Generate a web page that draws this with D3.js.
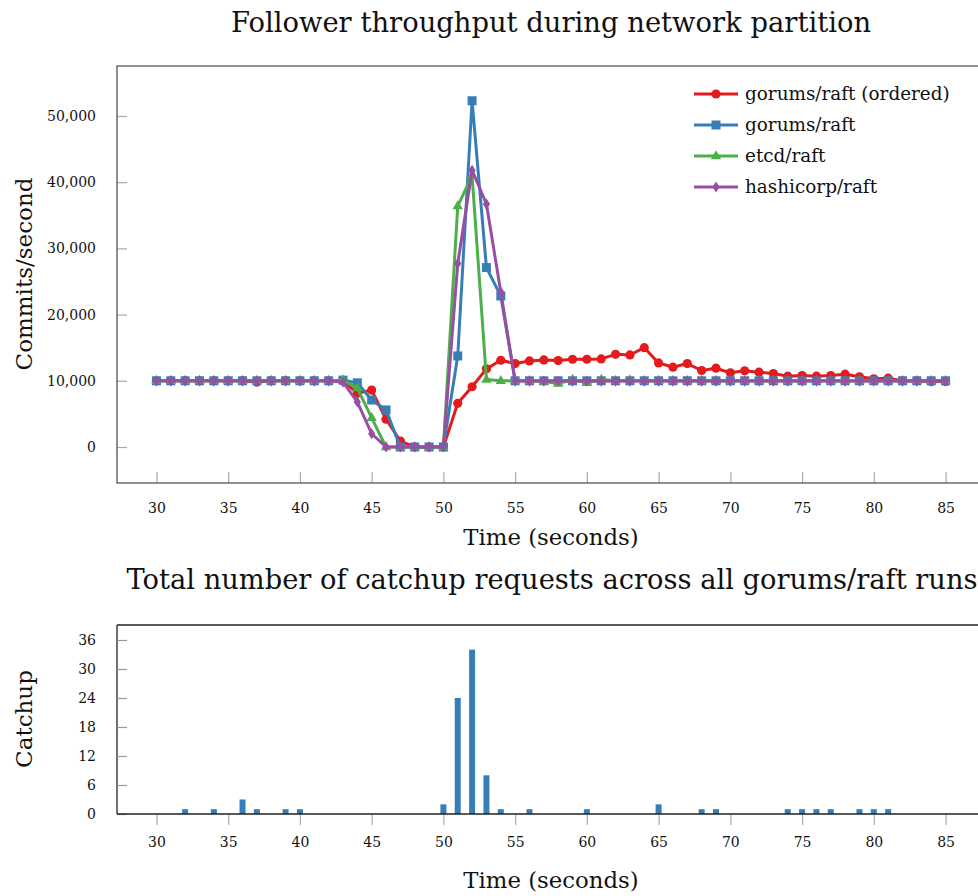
<!DOCTYPE html>
<html>
<head>
<meta charset="utf-8">
<script src="https://cdn.jsdelivr.net/npm/d3@7"></script>
<style>
  body { margin: 0; background: #fff; }
  svg { display: block; }
  text { font-family: "DejaVu Serif", serif; fill: #111; }
</style>
</head>
<body>
<svg id="chart" width="978" height="896"></svg>
<script>
// ---------- data ----------
const times = d3.range(30, 86);
const seriesNames = ["gorums/raft (ordered)", "gorums/raft", "etcd/raft", "hashicorp/raft"];
const seriesColors = ["#e41a1c", "#377eb8", "#4daf4a", "#984ea3"];
const seriesMarkers = ["circle", "square", "triangle", "diamond"];

const orderedValues = [
  10000, 10000, 10000, 10000, 10000, 10000, 10000, 9800, 10000, 10000,
  10000, 10000, 10000, 10000, 8100, 8600, 4200, 900, 0, 0,
  0, 6600, 9100, 11800, 13100, 12600, 13000, 13150, 13050, 13250,
  13250, 13300, 14000, 13900, 15000, 12700, 12050, 12600, 11550, 11900,
  11200, 11500, 11300, 11100, 10700, 10800, 10700, 10800, 11000, 10600,
  10300, 10400, 10000, 10000, 9900, 9900
];
const gorumsValues = [
  10000, 10000, 10000, 10000, 10000, 10000, 10000, 10000, 10000, 10000,
  10000, 10000, 10000, 10100, 9700, 7100, 5600, 0, 0, 0,
  0, 13750, 52300, 27100, 22800, 10000, 10000, 10000, 10000, 10000,
  10000, 10000, 10000, 10000, 10000, 10000, 10000, 10000, 10000, 10000,
  10000, 10000, 10000, 10000, 10000, 10000, 10000, 10000, 10000, 10000,
  10000, 10000, 10000, 10000, 10000, 10000
];
const etcdValues = [
  10000, 10000, 10000, 10000, 10000, 10000, 10000, 10000, 10000, 10000,
  10000, 10000, 10000, 10100, 8900, 4400, 0, 0, 0, 0,
  0, 36400, 41000, 10200, 10000, 10000, 10000, 9900, 9600, 10200,
  9700, 10200, 10000, 10100, 10000, 10000, 10000, 10000, 10000, 10000,
  10000, 10000, 10000, 10000, 10000, 10000, 10000, 10000, 10000, 10000,
  10000, 10000, 10000, 10000, 10000, 10000
];
const hashicorpValues = [
  10000, 10000, 10000, 10000, 10000, 10000, 10000, 10000, 10000, 10000,
  10000, 10000, 10000, 9800, 6800, 2000, 0, 0, 0, 0,
  0, 27700, 41800, 36700, 23400, 9950, 9950, 9950, 9950, 9950,
  9950, 9950, 9950, 9950, 9950, 9950, 9950, 9950, 9950, 9950,
  9950, 9950, 9950, 9950, 9950, 9950, 9950, 9950, 9950, 9950,
  9950, 9950, 9950, 9950, 9950, 9950
];
const allSeries = [orderedValues, gorumsValues, etcdValues, hashicorpValues];

const catchupTimes  = [32, 34, 36, 37, 39, 40, 50, 51, 52, 53, 54, 56, 60, 65, 68, 69, 74, 75, 76, 77, 79, 80, 81];
const catchupCounts = [1, 1, 3, 1, 1, 1, 2, 24, 34, 8, 1, 1, 1, 2, 1, 1, 1, 1, 1, 1, 1, 1, 1];

const xTicks = [30, 35, 40, 45, 50, 55, 60, 65, 70, 75, 80, 85];
const yTicksTop = [0, 10000, 20000, 30000, 40000, 50000];
const yTicksBottom = [0, 6, 12, 18, 24, 30, 36];

const title1 = "Follower throughput during network partition";
const title2 = "Total number of catchup requests across all gorums/raft runs";
const xLabel = "Time (seconds)";
const yLabel1 = "Commits/second";
const yLabel2 = "Catchup";

// ---------- layout ----------
const svg = d3.select("#chart");
const L = 117, R = 985;
const top1 = 66, bot1 = 483;
const top2 = 625, bot2 = 814;

const x = d3.scaleLinear().domain([27.25, 87.75]).range([L, R]);
const y1 = d3.scaleLinear().domain([-5440, 57550]).range([bot1, top1]);
const y2 = d3.scaleLinear().domain([0, 39.1]).range([bot2, top2]);

const fmt = d3.format(",");

// ---------- top chart ----------
svg.append("text").attr("x", 551).attr("y", 32).attr("text-anchor", "middle")
  .style("font-size", "27.4px").text(title1);

const g1 = svg.append("g");
const xAxis1 = d3.axisBottom(x).tickValues(xTicks).tickSizeInner(-11).tickSizeOuter(0).tickPadding(20).tickFormat(d3.format("d"));
const gx1 = g1.append("g").attr("transform", `translate(0,${bot1})`).call(xAxis1);
gx1.select(".domain").remove();
gx1.selectAll(".tick line").attr("stroke", "#aaa").attr("stroke-width", 1.2);
gx1.selectAll(".tick text").style("font-size", "14px").style("font-family", "DejaVu Serif").attr("fill", "#111");

const yAxis1 = d3.axisLeft(y1).tickValues(yTicksTop).tickSizeInner(-10).tickSizeOuter(0).tickPadding(21).tickFormat(fmt);
const gy1 = g1.append("g").attr("transform", `translate(${L},0)`).call(yAxis1);
gy1.select(".domain").remove();
gy1.selectAll(".tick line").attr("stroke", "#aaa").attr("stroke-width", 1.2);
gy1.selectAll(".tick text").style("font-size", "14px").style("font-family", "DejaVu Serif").attr("fill", "#111");

g1.append("rect").attr("x", L).attr("y", top1).attr("width", R - L).attr("height", bot1 - top1)
  .attr("fill", "none").attr("stroke", "#555").attr("stroke-width", 1.3);

function drawMarker(sel, type, color) {
  if (type === "circle") {
    sel.append("circle").attr("r", 4.6).attr("fill", color);
  } else if (type === "square") {
    sel.append("rect").attr("x", -4.5).attr("y", -4.5).attr("width", 9).attr("height", 9).attr("fill", color);
  } else if (type === "triangle") {
    sel.append("path").attr("d", "M0,-5.8L5.2,3.2L-5.2,3.2Z").attr("fill", color);
  } else {
    sel.append("path").attr("d", "M0,-5.6L3.6,0L0,5.6L-3.6,0Z").attr("fill", color);
  }
}

const line = d3.line().x(d => x(d[0])).y(d => y1(d[1]));
allSeries.forEach((vals, i) => {
  const pts = times.map((t, k) => [t, vals[k]]);
  g1.append("path").datum(pts).attr("d", line).attr("fill", "none")
    .attr("stroke", seriesColors[i]).attr("stroke-width", 3).attr("stroke-linejoin", "round");
  pts.forEach(p => {
    const m = g1.append("g").attr("transform", `translate(${x(p[0])},${y1(p[1])})`);
    drawMarker(m, seriesMarkers[i], seriesColors[i]);
  });
});

// legend
const lg = svg.append("g");
seriesNames.forEach((name, i) => {
  const yy = 94 + i * 31;
  lg.append("line").attr("x1", 694).attr("x2", 738).attr("y1", yy).attr("y2", yy)
    .attr("stroke", seriesColors[i]).attr("stroke-width", 3);
  const m = lg.append("g").attr("transform", `translate(716,${yy})`);
  drawMarker(m, seriesMarkers[i], seriesColors[i]);
  lg.append("text").attr("x", 745).attr("y", yy + 6).style("font-size", "18.4px").text(name);
});

svg.append("text").attr("x", 551).attr("y", 545).attr("text-anchor", "middle")
  .style("font-size", "22.8px").text(xLabel);
svg.append("text").attr("transform", "translate(32,274) rotate(-90)").attr("text-anchor", "middle")
  .style("font-size", "23px").text(yLabel1);

// ---------- bottom chart ----------
svg.append("text").attr("x", 552).attr("y", 589).attr("text-anchor", "middle")
  .style("font-size", "27.3px").text(title2);

const g2 = svg.append("g");
g2.append("line").attr("x1", L).attr("x2", R).attr("y1", top2).attr("y2", top2).attr("stroke", "#222").attr("stroke-width", 1.3);
g2.append("line").attr("x1", L).attr("x2", L).attr("y1", top2).attr("y2", bot2).attr("stroke", "#222").attr("stroke-width", 1.3);

const yAxis2 = d3.axisLeft(y2).tickValues(yTicksBottom).tickSizeInner(-10).tickSizeOuter(0).tickPadding(21).tickFormat(d3.format("d"));
const gy2 = g2.append("g").attr("transform", `translate(${L},0)`).call(yAxis2);
gy2.select(".domain").remove();
gy2.selectAll(".tick line").attr("stroke", "#999").attr("stroke-width", 1.2);
gy2.selectAll(".tick text").style("font-size", "14px").style("font-family", "DejaVu Serif").attr("fill", "#111");

g2.selectAll("rect.bar").data(catchupTimes.map((t, i) => [t, catchupCounts[i]])).enter()
  .append("rect").attr("class", "bar")
  .attr("x", d => x(d[0]) - 3).attr("width", 6)
  .attr("y", d => y2(d[1])).attr("height", d => bot2 - y2(d[1]))
  .attr("fill", "#377eb8");

const xAxis2 = d3.axisBottom(x).tickValues(xTicks).tickSizeInner(11).tickSizeOuter(0).tickPadding(12).tickFormat(d3.format("d"));
const gx2 = g2.append("g").attr("transform", `translate(0,${bot2})`).call(xAxis2);
gx2.select(".domain").remove();
gx2.selectAll(".tick line").attr("stroke", "#aaa").attr("stroke-width", 1.2);
gx2.selectAll(".tick text").style("font-size", "14px").style("font-family", "DejaVu Serif").attr("fill", "#111");
g2.append("line").attr("x1", L).attr("x2", R).attr("y1", bot2).attr("y2", bot2).attr("stroke", "#222").attr("stroke-width", 1.3);

svg.append("text").attr("x", 551).attr("y", 888).attr("text-anchor", "middle")
  .style("font-size", "22.8px").text(xLabel);
svg.append("text").attr("transform", "translate(32,719) rotate(-90)").attr("text-anchor", "middle")
  .style("font-size", "23px").text(yLabel2);
</script>
</body>
</html>
